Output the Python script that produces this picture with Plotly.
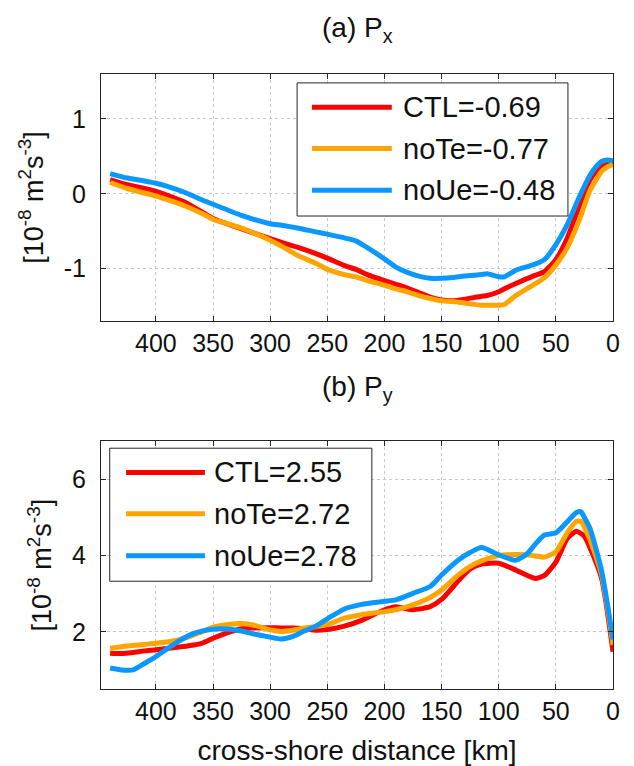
import plotly.graph_objects as go

# ---------------- data ----------------
dist_a = [440, 425, 410, 400, 390, 375, 360, 350, 325, 300, 290, 275, 260, 250, 235, 225,
          215, 200, 190, 180, 170, 160, 150, 140, 130, 115, 110, 100, 95, 85, 70, 60,
          50, 40, 30, 20, 15, 10, 5, 0]
px_ctl = [0.19, 0.12, 0.07, 0.03, -0.02, -0.11, -0.24, -0.33, -0.47, -0.60, -0.65, -0.72, -0.80,
          -0.86, -0.96, -1.01, -1.08, -1.16, -1.21, -1.26, -1.32, -1.38, -1.42, -1.43, -1.41,
          -1.37, -1.36, -1.31, -1.27, -1.20, -1.10, -1.04, -0.88, -0.59, -0.19, 0.19, 0.30,
          0.38, 0.41, 0.42]
px_note = [0.15, 0.07, 0.01, -0.03, -0.08, -0.16, -0.26, -0.34, -0.46, -0.62, -0.70, -0.83,
           -0.93, -1.01, -1.08, -1.11, -1.16, -1.22, -1.27, -1.31, -1.36, -1.40, -1.43, -1.44,
           -1.46, -1.49, -1.49, -1.49, -1.48, -1.36, -1.22, -1.12, -0.95, -0.72, -0.37, 0.05,
           0.18, 0.30, 0.36, 0.39]
px_noue = [0.27, 0.21, 0.17, 0.14, 0.10, 0.02, -0.08, -0.14, -0.29, -0.40, -0.42, -0.46,
           -0.51, -0.54, -0.59, -0.63, -0.72, -0.87, -0.98, -1.05, -1.10, -1.13, -1.13,
           -1.12, -1.10, -1.08, -1.07, -1.11, -1.11, -1.02, -0.95, -0.88, -0.68, -0.41,
           -0.06, 0.25, 0.36, 0.43, 0.45, 0.44]

dist_b = [440, 430, 420, 410, 400, 385, 370, 360, 350, 335, 325, 315, 300, 290, 280, 270,
          260, 250, 235, 220, 200, 190, 175, 160, 150, 135, 125, 115, 100, 85, 75, 68, 60,
          50, 40, 32, 28, 25, 20, 10, 0]
py_ctl = [1.44, 1.43, 1.46, 1.50, 1.53, 1.58, 1.64, 1.70, 1.83, 2.00, 2.08, 2.10, 2.11, 2.10,
          2.10, 2.08, 2.04, 2.06, 2.15, 2.30, 2.58, 2.66, 2.58, 2.66, 2.85, 3.35, 3.65, 3.78,
          3.80, 3.62, 3.48, 3.40, 3.48, 3.83, 4.45, 4.64, 4.58, 4.50, 4.20, 3.40, 1.48]
py_note = [1.57, 1.61, 1.64, 1.67, 1.70, 1.76, 1.88, 2.00, 2.12, 2.20, 2.22, 2.18, 2.05, 2.01,
           2.04, 2.10, 2.14, 2.19, 2.36, 2.45, 2.53, 2.58, 2.71, 2.90, 3.10, 3.50, 3.72, 3.86,
           4.00, 4.03, 4.02, 3.99, 3.96, 4.10, 4.60, 4.90, 4.90, 4.75, 4.40, 3.50, 1.66]
py_noue = [1.05, 1.00, 1.00, 1.17, 1.35, 1.66, 1.92, 2.02, 2.07, 2.07, 2.02, 1.95, 1.86, 1.81,
           1.88, 2.02, 2.15, 2.34, 2.60, 2.72, 2.80, 2.84, 3.01, 3.19, 3.49, 3.89, 4.08, 4.21,
           4.02, 3.88, 4.05, 4.30, 4.54, 4.60, 4.89, 5.13, 5.15, 5.00, 4.70, 3.60, 1.80]

series_names = ["CTL", "noTe", "noUe"]
series_colors = ["#FF0000", "#FFA500", "#0A98FF"]
mean_px = [-0.69, -0.77, -0.48]
mean_py = [2.55, 2.72, 2.78]

x_ticks = [400, 350, 300, 250, 200, 150, 100, 50, 0]
x_ticktext = ["400", "350", "300", "250", "200", "150", "100", "50", "0"]
ya_ticks = [-1, 0, 1]
ya_ticktext = ["-1", "0", "1"]
yb_ticks = [2, 4, 6]
yb_ticktext = ["2", "4", "6"]

FONT = "Liberation Sans, Arial, Helvetica, sans-serif"

fig = go.Figure()
for vals, name, col in zip([px_ctl, px_note, px_noue], series_names, series_colors):
    fig.add_trace(go.Scatter(x=dist_a, y=vals, mode="lines", name=name,
                             line=dict(color=col, width=5, shape="spline", smoothing=0.6),
                             xaxis="x", yaxis="y", showlegend=False))
for vals, name, col in zip([py_ctl, py_note, py_noue], series_names, series_colors):
    fig.add_trace(go.Scatter(x=dist_b, y=vals, mode="lines", name=name,
                             line=dict(color=col, width=5, shape="spline", smoothing=0.6),
                             xaxis="x2", yaxis="y2", showlegend=False))

axis_common = dict(showline=True, linecolor="#262626", linewidth=1, mirror="ticks",
                   ticks="inside", ticklen=5, tickcolor="#262626",
                   showgrid=True, gridcolor="#c8c8c8", griddash="dot", gridwidth=1,
                   zeroline=False, tickfont=dict(family=FONT, size=25, color="#111111"))

TOP_DOM = [0.5984, 1.0]
BOT_DOM = [0.0, 0.4028]
ytitle = "[10<sup>-8</sup> m<sup>2</sup>s<sup>-3</sup>]"

fig.update_layout(
    width=634, height=766,
    margin=dict(l=93, r=29, t=66, b=85),
    paper_bgcolor="white", plot_bgcolor="white",
    font=dict(family=FONT, color="#111111"),
    xaxis=dict(domain=[0, 1], anchor="y", range=[448, 0], tickvals=x_ticks,
               ticktext=x_ticktext, ticklabelstandoff=0, **axis_common),
    yaxis=dict(domain=TOP_DOM, anchor="x", range=[-1.7, 1.6], tickvals=ya_ticks,
               ticktext=ya_ticktext, ticklabelstandoff=9,
               title=dict(text=ytitle, font=dict(family=FONT, size=27), standoff=12),
               **axis_common),
    xaxis2=dict(domain=[0, 1], anchor="y2", range=[448, 0], tickvals=x_ticks,
                ticktext=x_ticktext, ticklabelstandoff=0,
                title=dict(text="cross-shore distance [km]", font=dict(family=FONT, size=28),
                           standoff=16),
                **axis_common),
    yaxis2=dict(domain=BOT_DOM, anchor="x2", range=[0.5, 7], tickvals=yb_ticks,
                ticktext=yb_ticktext, ticklabelstandoff=9,
                title=dict(text=ytitle, font=dict(family=FONT, size=27), standoff=12),
                **axis_common),
    showlegend=False,
)

# panel titles
fig.add_annotation(text="(a) P<sub>x</sub>", x=0.5, y=1.072, xref="paper", yref="paper",
                   showarrow=False, xanchor="center", yanchor="middle",
                   font=dict(family=FONT, size=28, color="#111111"))
fig.add_annotation(text="(b) P<sub>y</sub>", x=0.5, y=0.489, xref="paper", yref="paper",
                   showarrow=False, xanchor="center", yanchor="middle",
                   font=dict(family=FONT, size=28, color="#111111"))


def add_legend(xr, yr, box, line_x, text_x, rows, means):
    fig.add_shape(type="rect", xref=xr, yref=yr, x0=box[0], x1=box[1], y0=box[2], y1=box[3],
                  line=dict(color="#262626", width=1), fillcolor="white", layer="above")
    for name, col, m, ry in zip(series_names, series_colors, means, rows):
        fig.add_shape(type="line", xref=xr, yref=yr, x0=line_x[0], x1=line_x[1], y0=ry, y1=ry,
                      line=dict(color=col, width=5), layer="above")
        fig.add_annotation(text=f"{name}={m:.2f}", xref=xr, yref=yr, x=text_x, y=ry,
                           xanchor="left", yanchor="middle", showarrow=False,
                           font=dict(family=FONT, size=29, color="#111111"))


add_legend("x domain", "y domain", [0.383, 0.912, 0.425, 0.964], [0.412, 0.568], 0.586,
           [0.865, 0.698, 0.529], mean_px)
add_legend("x2 domain", "y2 domain", [0.017, 0.529, 0.435, 0.972], [0.049, 0.203], 0.216,
           [0.874, 0.707, 0.538], mean_py)

fig.write_html("out.html")
